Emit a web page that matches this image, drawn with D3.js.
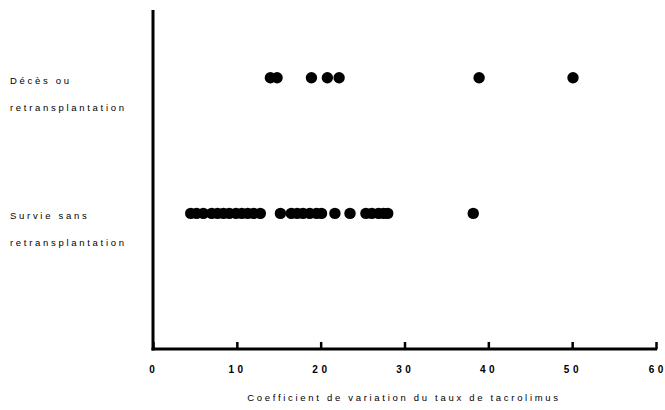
<!DOCTYPE html>
<html>
<head>
<meta charset="utf-8">
<script src="https://cdn.jsdelivr.net/npm/d3@7"></script>
<style>
  html, body { margin: 0; padding: 0; background: #fff; }
  svg { display: block; }
  text { font-family: "Liberation Sans", Arial, sans-serif; fill: #000; }
</style>
</head>
<body>
<svg id="chart" width="665" height="410"></svg>
<script>
// Outcome groups (bottom to top) and their two-line labels
const groups = ["Survie sans retransplantation", "Décès ou retransplantation"];
const groupLines = [["Survie sans", "retransplantation"], ["Décès ou", "retransplantation"]];

// Coefficient of variation of tacrolimus level (%) per patient, by group
const survivalValues = [4.5, 5.2, 6.0, 7.0, 7.7, 8.4, 9.1, 9.9, 10.6, 11.3, 12.0, 12.8,
  15.2, 16.5, 17.2, 17.9, 18.7, 19.5, 20.1, 21.7, 23.5, 25.4, 26.1, 26.9, 27.5, 28.0, 38.2];
const deathValues = [14.0, 14.8, 18.9, 20.8, 22.2, 38.9, 50.1];

const xTicks = [0, 10, 20, 30, 40, 50, 60];
const xTitle = "Coefficient de variation du taux de tacrolimus";

const svg = d3.select("#chart");
const x = d3.scaleLinear().domain([0, 60]).range([153, 656]);
const y = d3.scaleLinear().domain([0, 2.5]).range([349, 10]);

const points = [
  ...survivalValues.map(v => ({ v, g: 1 })),
  ...deathValues.map(v => ({ v, g: 2 }))
];

// dots
svg.append("g").selectAll("circle").data(points).join("circle")
  .attr("cx", d => x(d.v))
  .attr("cy", d => y(d.g))
  .attr("r", 5.7)
  .attr("fill", "#000");

// x axis with inward ticks
const xAxis = d3.axisBottom(x).tickValues(xTicks).tickSize(-7).tickFormat("");
const gx = svg.append("g").attr("transform", `translate(0,${y(0)})`).call(xAxis);
gx.select(".domain").remove();
gx.selectAll(".tick line").attr("stroke", "#000").attr("stroke-width", 2.5);
svg.append("line")
  .attr("x1", x(0) - 1.5).attr("x2", x(60) + 1.2)
  .attr("y1", y(0)).attr("y2", y(0))
  .attr("stroke", "#000").attr("stroke-width", 3);

// y axis line
svg.append("line")
  .attr("x1", x(0)).attr("x2", x(0))
  .attr("y1", y(2.5)).attr("y2", y(0) + 1.5)
  .attr("stroke", "#000").attr("stroke-width", 3);

// tick labels: digits spaced apart, drawn as separate glyph runs so no trailing gap
const tickLabels = svg.append("g");
xTicks.forEach(d => {
  const s = String(d);
  const gap = 3.5;
  const glyph = 5.56;
  const total = s.length * glyph + (s.length - 1) * gap;
  const x0 = x(d) - total / 2 - (d === 60 ? 0 : 1);
  s.split("").forEach((ch, k) => {
    tickLabels.append("text")
      .attr("x", x0 + k * (glyph + gap))
      .attr("y", 373)
      .style("font-size", "10px")
      .style("font-weight", "bold")
      .text(ch);
  });
});

// axis title
svg.append("text")
  .attr("x", 404)
  .attr("y", 401)
  .attr("text-anchor", "middle")
  .style("font-size", "9.5px")
  .style("letter-spacing", "2.7px")
  .text(xTitle);

// group labels
groupLines.forEach((lines, i) => {
  const cy = y(i + 1);
  lines.forEach((t, j) => {
    svg.append("text")
      .attr("x", 10)
      .attr("y", cy + 6 + j * 27)
      .style("font-size", "9.5px")
      .style("letter-spacing", "2.7px")
      .text(t);
  });
});
</script>
</body>
</html>
